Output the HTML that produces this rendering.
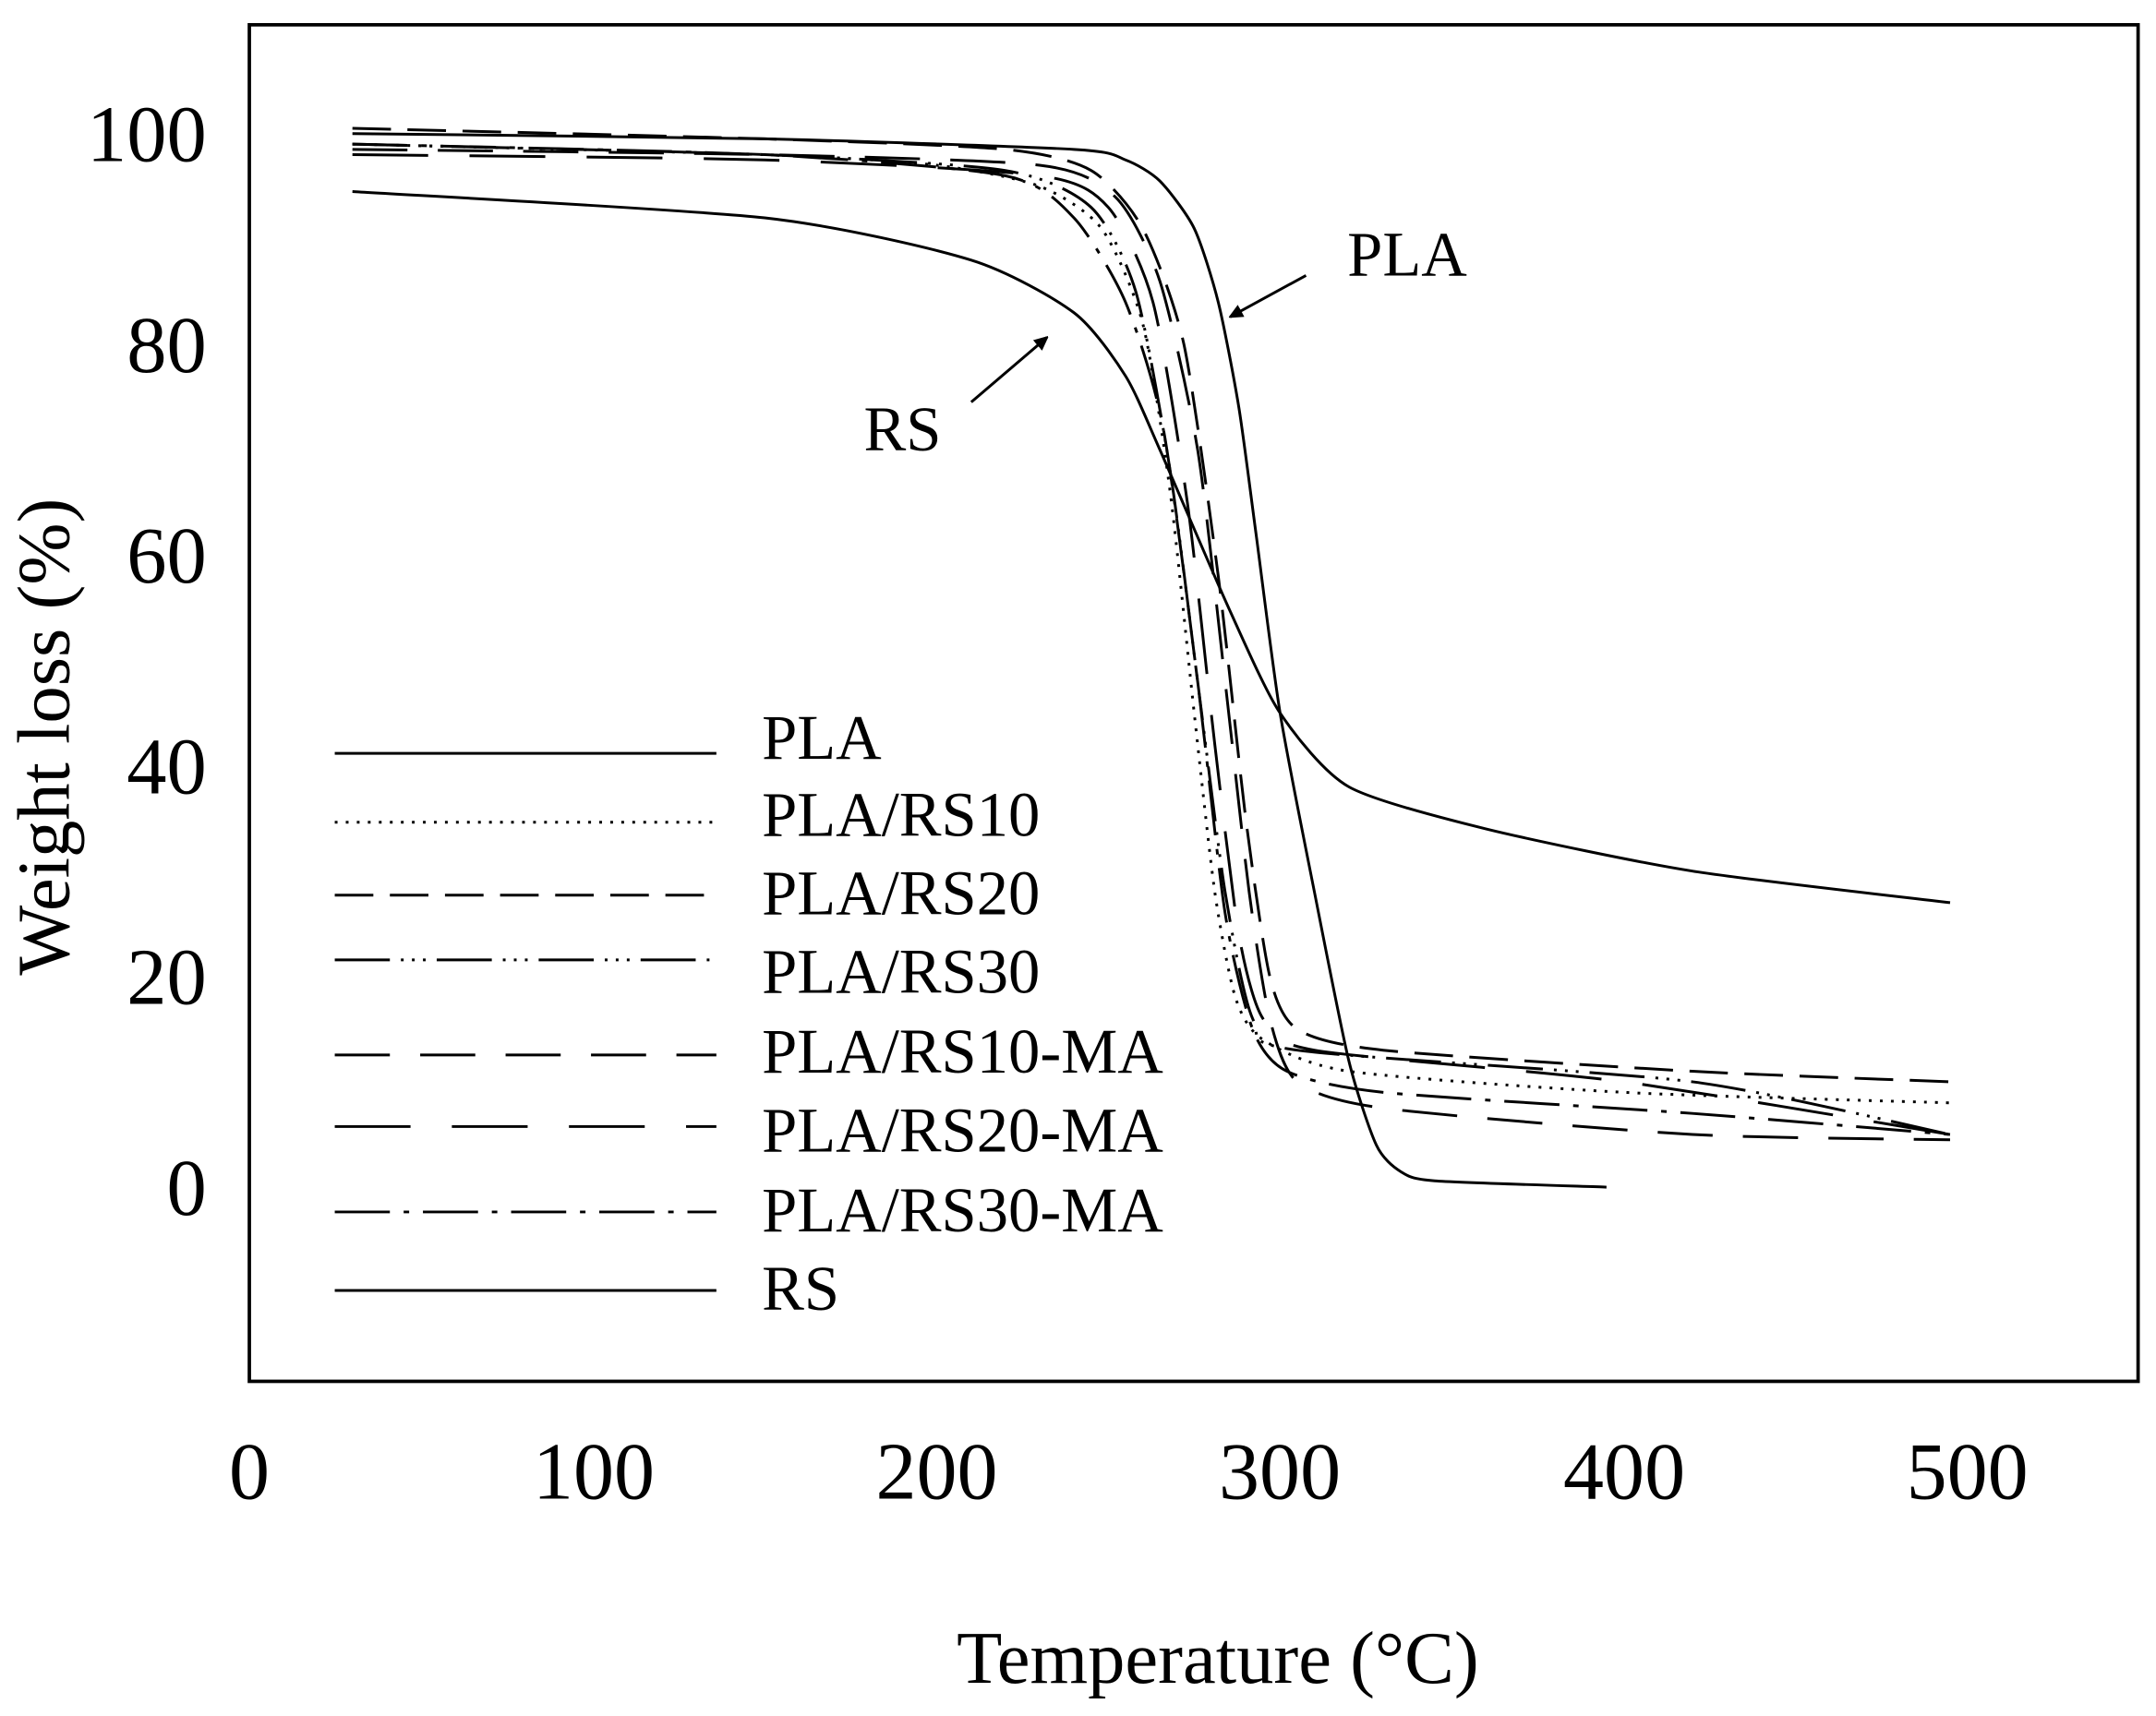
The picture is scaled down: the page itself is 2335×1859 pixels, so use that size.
<!DOCTYPE html>
<html><head><meta charset="utf-8"><style>
html,body{margin:0;padding:0;background:#fff;}
svg{display:block;}
text{font-family:"Liberation Serif",serif;fill:#000;}
</style></head><body>
<svg id="s" width="2335" height="1859" viewBox="0 0 1565 1246" preserveAspectRatio="none" xmlns="http://www.w3.org/2000/svg">
<defs><marker id="ah" markerWidth="10" markerHeight="10" refX="9" refY="5" orient="auto" markerUnits="userSpaceOnUse"><path d="M0,0 L18,5 L0,10 z" transform="scale(0.6,1)"/></marker></defs>
<rect x="181" y="18" width="1371" height="985" fill="none" stroke="#000" stroke-width="2.5"/>
<g font-size="58" text-anchor="end">
<text x="150" y="117">100</text><text x="150" y="270">80</text><text x="150" y="423">60</text>
<text x="150" y="576">40</text><text x="150" y="729">20</text><text x="150" y="882">0</text>
</g>
<g font-size="59" text-anchor="middle">
<text x="181" y="1088">0</text><text x="431" y="1088">100</text><text x="680" y="1088">200</text>
<text x="929" y="1088">300</text><text x="1179" y="1088">400</text><text x="1428" y="1088">500</text>
</g>
<g font-size="54" text-anchor="middle">
<text x="884" y="1222">Temperature (°C)</text>
<text transform="translate(50,535) rotate(-90)">Weight loss (%)</text>
</g>
<g id="curves" fill="none" stroke="#000" stroke-width="2"></g>
<g stroke="#000" stroke-width="2">
<line x1="243" y1="547" x2="520" y2="547"/>
<line x1="243" y1="597" x2="520" y2="597" stroke-dasharray="2,6"/>
<line x1="243" y1="650" x2="520" y2="650" stroke-dasharray="28,12"/>
<line x1="243" y1="697" x2="520" y2="697" stroke-dasharray="40,8,2,6,2,6,2,8"/>
<line x1="243" y1="766" x2="520" y2="766" stroke-dasharray="40,22"/>
<line x1="243" y1="818" x2="520" y2="818" stroke-dasharray="55,30"/>
<line x1="243" y1="880" x2="520" y2="880" stroke-dasharray="40,10,4,10"/>
<line x1="243" y1="937" x2="520" y2="937"/>
</g>
<g font-size="46">
<text x="553" y="551">PLA</text><text x="553" y="607">PLA/RS10</text><text x="553" y="664">PLA/RS20</text>
<text x="553" y="721">PLA/RS30</text><text x="553" y="779">PLA/RS10-MA</text><text x="553" y="836">PLA/RS20-MA</text>
<text x="553" y="894">PLA/RS30-MA</text><text x="553" y="951">RS</text>
<text x="978" y="200">PLA</text><text x="627" y="327">RS</text>
</g>
<line x1="948" y1="200" x2="893" y2="230" stroke="#000" stroke-width="2" marker-end="url(#ah)"/>
<line x1="705" y1="292" x2="760" y2="245" stroke="#000" stroke-width="2" marker-end="url(#ah)"/>
</svg>
<script>
const X=t=>181+2.494*t, Y=w=>862-7.65*w;
function path(pts){const p=pts.map(a=>[X(a[0]),Y(a[1])]);let d="M"+p[0][0]+","+p[0][1];
for(let i=0;i<p.length-1;i++){const p0=p[Math.max(0,i-1)],p1=p[i],p2=p[i+1],p3=p[Math.min(p.length-1,i+2)];
const k=0.12;
const c1=[p1[0]+(p2[0]-p0[0])*k,p1[1]+(p2[1]-p0[1])*k],c2=[p2[0]-(p3[0]-p1[0])*k,p2[1]-(p3[1]-p1[1])*k];
d+=` C${c1},${c2},${p2}`;}return d;}
const S=[
[[[30,100],[150,99.5],[240,98.5],[255,97.5],[265,95.5],[275,91],[282,84],[288,74],[293,62],[300,45],[310,28],[320,12],[328,4],[335,1.5],[345,0.6],[395,0]],null],
[[[30,99],[150,98],[200,97],[230,95],[248,91],[260,82],[268,66],[275,45],[281,28],[287,18],[295,14],[320,11],[400,9],[495,8]],"2,6"],
[[[30,100.5],[150,99.5],[220,98.5],[245,96.5],[260,91],[272,80],[282,58],[290,35],[297,20],[305,15],[330,13],[420,11],[495,10]],"28,12"],
[[[30,99],[150,98],[220,96.5],[245,93],[258,85],[268,68],[276,48],[284,28],[292,16],[305,13],[420,10],[495,5]],"40,8,2,6,2,6,2,8"],
[[[30,98.5],[150,98],[230,97],[252,94],[265,86],[276,70],[284,48],[291,28],[297,16],[305,10],[330,7.5],[420,5],[495,4.5]],"40,22"],
[[[30,98],[150,97.5],[230,96],[250,93],[263,84],[273,65],[281,42],[288,24],[295,16],[310,13],[400,10],[495,5]],"55,30"],
[[[30,99],[150,98],[220,96],[240,92],[255,84],[266,72],[276,48],[284,26],[292,15],[302,11],[330,9],[420,7],[495,5]],"40,10,4,10"],
[[[30,94.5],[150,92],[210,88],[240,83],[255,77],[265,70],[285,55],[300,45],[320,38],[360,34],[420,30],[495,27]],null]];
const g=document.getElementById("curves");
S.forEach(s=>{const e=document.createElementNS("http://www.w3.org/2000/svg","path");e.setAttribute("d",path(s[0]));if(s[1])e.setAttribute("stroke-dasharray",s[1]);g.appendChild(e);});
</script>
</body></html>
